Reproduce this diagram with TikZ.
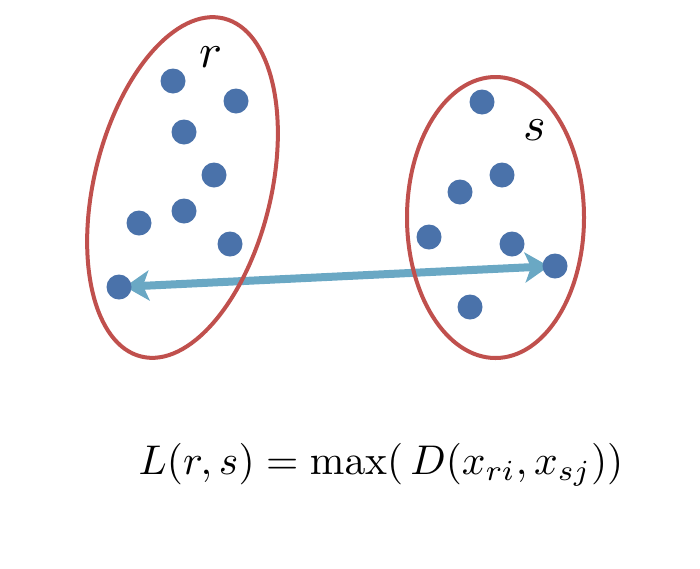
\documentclass[tikz,border=0pt]{standalone}
\usepackage{amsmath}
\usetikzlibrary{shapes.geometric}
\usetikzlibrary{arrows.meta}
\usetikzlibrary{backgrounds}
\definecolor{ptblue}{RGB}{74,114,170}
\definecolor{clred}{RGB}{192,80,77}
\definecolor{arblue}{RGB}{106,168,196}
\tikzset{>={Stealth[length=24pt,width=30pt,inset=6pt]}}
\tikzset{pnt/.style={circle, fill=ptblue, minimum size=25pt, inner sep=0pt}}
\tikzset{clus/.style={draw=clred, line width=4pt, ellipse, inner sep=0pt}}
\tikzset{lnk/.style={draw=arblue, line width=8pt, shorten <=6pt, shorten >=6pt}}
\tikzset{lab/.style={scale=4.8}}

\begin{document}
\begin{tikzpicture}[x=1pt,y=-1pt]
\useasboundingbox (0,0) rectangle (700,568);
\node (r) [clus, minimum width=177pt, minimum height=348pt, rotate=-13.7] at (182.5,187.5) {};
\node (s) [clus, minimum width=177pt, minimum height=281pt] at (495.5,217.5) {};

\node (r1) [pnt] at (173,81) {};
\node (r2) [pnt] at (236,101) {};
\node (r3) [pnt] at (184,132) {};
\node (r4) [pnt] at (214,175) {};
\node (r5) [pnt] at (184,211) {};
\node (r6) [pnt] at (139,223) {};
\node (r7) [pnt] at (230,244) {};
\node (r8) [pnt] at (119,287) {};

\node (s1) [pnt] at (482,102) {};
\node (s2) [pnt] at (502,175) {};
\node (s3) [pnt] at (460,192) {};
\node (s4) [pnt] at (429,237) {};
\node (s5) [pnt] at (512,244) {};
\node (s6) [pnt] at (555,266) {};
\node (s7) [pnt] at (470,307) {};

\begin{scope}[on background layer]
\draw[<->, lnk] (r8.center) -- (s6.center);
\end{scope}

\node (rlab) [lab] at (211,57) {$r$};
\node (slab) [lab] at (535,130) {$s$};
\node (dist) [scale=4.15] at (381,465) {$L(r,s)=\max(\,D(x_{ri},x_{sj}))$};
\end{tikzpicture}
\end{document}
